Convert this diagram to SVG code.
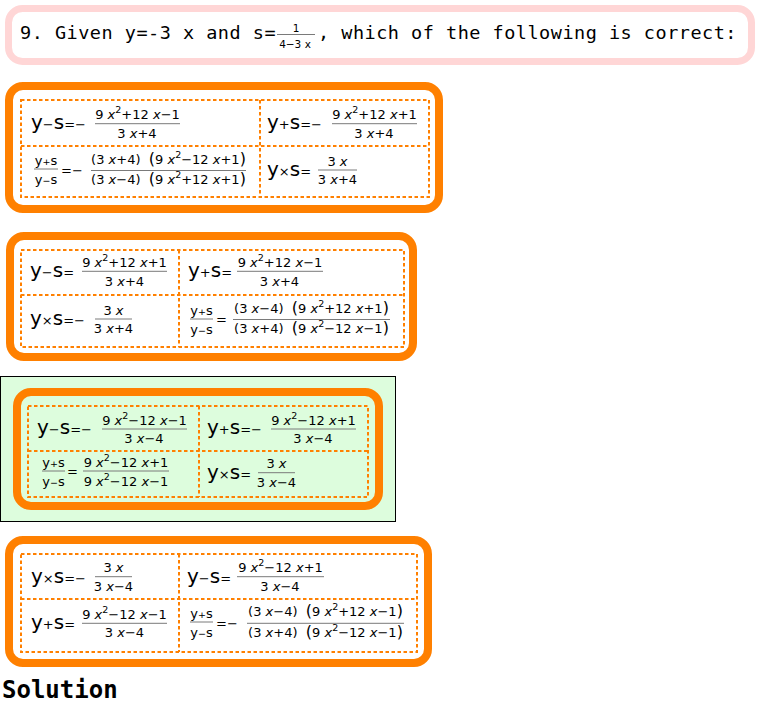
<svg xmlns="http://www.w3.org/2000/svg" width="760" height="707" viewBox="0 0 760 707">
<style>
.mono{font-family:"DejaVu Sans Mono","Liberation Mono",monospace;font-size:18.5px;letter-spacing:0.5px;fill:#000}
.sol{font-family:"DejaVu Sans Mono","Liberation Mono",monospace;font-size:24px;font-weight:bold;fill:#000}
.big{font-family:"DejaVu Sans","Liberation Sans",sans-serif;font-size:20px;fill:#000}
.op{font-size:13px}
.m{font-family:"DejaVu Sans","Liberation Sans",sans-serif;font-size:13px;text-anchor:middle;fill:#000}
.sm{font-family:"DejaVu Sans","Liberation Sans",sans-serif;font-size:13px;text-anchor:middle;fill:#000}
.sop{font-size:9.5px}
.t{font-family:"DejaVu Sans","Liberation Sans",sans-serif;font-size:10.5px;text-anchor:middle;fill:#000}
.i{font-style:italic}
.sup{font-size:9.5px}
.bp{font-size:16px}
.bar{stroke:#7a7a7a;stroke-width:1}
.frame{fill:#fff;stroke:#ff8000;stroke-width:8}
.dash{fill:none;stroke:#ff8000;stroke-width:2;stroke-dasharray:3.5 2.5}
</style>
<rect x="0" y="0" width="760" height="707" fill="#fff"/>

<g id="title">
<rect x="8.5" y="8.5" width="743" height="53" rx="14" fill="#fff" stroke="#ffd6d6" stroke-width="7"/>
<text class="mono" x="20" y="38.5">9. Given y=-3 x and s=</text>
<text class="t" x="296" y="31.5">1</text>
<line class="bar" x1="277" y1="34.5" x2="315" y2="34.5"/>
<text class="t" x="295" y="47.5">4−3 x</text>
<text class="mono" x="318" y="38.5">, which of the following is correct:</text>
</g>

<g id="option1">
<rect class="frame" x="9" y="86" width="430" height="123" rx="14"/>
<rect class="dash" x="21" y="100" width="408" height="97"/>
<line class="dash" x1="260" y1="100" x2="260" y2="197"/>
<line class="dash" x1="21" y1="146" x2="429" y2="146"/>
<text class="big" x="31" y="128.7">y<tspan class="op">−</tspan>s<tspan class="op">=−</tspan></text>
<text class="m" x="137.5" y="119.2">9 <tspan class="i">x</tspan><tspan class="sup" dy="-6">2</tspan><tspan dy="6">+12 </tspan><tspan class="i">x</tspan>−1</text>
<line class="bar" x1="95" y1="123.7" x2="180" y2="123.7"/>
<text class="m" x="137" y="137.5">3 <tspan class="i">x</tspan>+4</text>
<text class="big" x="267" y="128.7">y<tspan class="op">+</tspan>s<tspan class="op">=−</tspan></text>
<text class="m" x="374.5" y="119.2">9 <tspan class="i">x</tspan><tspan class="sup" dy="-6">2</tspan><tspan dy="6">+12 </tspan><tspan class="i">x</tspan>+1</text>
<line class="bar" x1="332" y1="123.7" x2="417" y2="123.7"/>
<text class="m" x="374" y="137.5">3 <tspan class="i">x</tspan>+4</text>
<text class="sm" x="46" y="164.5">y<tspan class="sop">+</tspan>s</text>
<line class="bar" x1="34" y1="169" x2="58" y2="169"/>
<text class="sm" x="46" y="183.5">y<tspan class="sop">−</tspan>s</text>
<text class="big" x="61" y="174.5"><tspan class="op">=−</tspan></text>
<text class="m" x="168.5" y="163.5">(3 <tspan class="i">x</tspan>+4)&#160;&#160;<tspan class="bp">(</tspan>9 <tspan class="i">x</tspan><tspan class="sup" dy="-6">2</tspan><tspan dy="6">−12 </tspan><tspan class="i">x</tspan>+1<tspan class="bp">)</tspan></text>
<line class="bar" x1="91" y1="170.5" x2="246" y2="170.5"/>
<text class="m" x="168.5" y="184">(3 <tspan class="i">x</tspan>−4)&#160;&#160;<tspan class="bp">(</tspan>9 <tspan class="i">x</tspan><tspan class="sup" dy="-6">2</tspan><tspan dy="6">+12 </tspan><tspan class="i">x</tspan>+1<tspan class="bp">)</tspan></text>
<text class="big" x="267" y="176">y<tspan class="op">×</tspan>s<tspan class="op">=</tspan></text>
<text class="m" x="337.5" y="166">3 <tspan class="i">x</tspan></text>
<line class="bar" x1="318" y1="170" x2="357" y2="170"/>
<text class="m" x="337.5" y="184">3 <tspan class="i">x</tspan>+4</text>
</g>

<g id="option2">
<rect class="frame" x="10" y="236" width="403" height="121" rx="14"/>
<rect class="dash" x="21" y="250" width="383" height="97"/>
<line class="dash" x1="179" y1="250" x2="179" y2="347"/>
<line class="dash" x1="21" y1="295" x2="404" y2="295"/>
<text class="big" x="30" y="276.5">y<tspan class="op">−</tspan>s<tspan class="op">=</tspan></text>
<text class="m" x="124.5" y="267">9 <tspan class="i">x</tspan><tspan class="sup" dy="-6">2</tspan><tspan dy="6">+12 </tspan><tspan class="i">x</tspan>+1</text>
<line class="bar" x1="82" y1="271.3" x2="167" y2="271.3"/>
<text class="m" x="124.5" y="285.5">3 <tspan class="i">x</tspan>+4</text>
<text class="big" x="188" y="276.5">y<tspan class="op">+</tspan>s<tspan class="op">=</tspan></text>
<text class="m" x="280" y="267">9 <tspan class="i">x</tspan><tspan class="sup" dy="-6">2</tspan><tspan dy="6">+12 </tspan><tspan class="i">x</tspan>−1</text>
<line class="bar" x1="237" y1="271.3" x2="323" y2="271.3"/>
<text class="m" x="279.5" y="285.5">3 <tspan class="i">x</tspan>+4</text>
<text class="big" x="30" y="324.5">y<tspan class="op">×</tspan>s<tspan class="op">=−</tspan></text>
<text class="m" x="113.5" y="315">3 <tspan class="i">x</tspan></text>
<line class="bar" x1="95" y1="319" x2="132" y2="319"/>
<text class="m" x="113.5" y="333">3 <tspan class="i">x</tspan>+4</text>
<text class="sm" x="201.5" y="314.5">y<tspan class="sop">+</tspan>s</text>
<line class="bar" x1="190" y1="319" x2="213" y2="319"/>
<text class="sm" x="201.5" y="333.5">y<tspan class="sop">−</tspan>s</text>
<text class="big" x="216" y="324"><tspan class="op">=</tspan></text>
<text class="m" x="311.5" y="312.5">(3 <tspan class="i">x</tspan>−4)&#160;&#160;<tspan class="bp">(</tspan>9 <tspan class="i">x</tspan><tspan class="sup" dy="-6">2</tspan><tspan dy="6">+12 </tspan><tspan class="i">x</tspan>+1<tspan class="bp">)</tspan></text>
<line class="bar" x1="233" y1="319.5" x2="390" y2="319.5"/>
<text class="m" x="311.5" y="333">(3 <tspan class="i">x</tspan>+4)&#160;&#160;<tspan class="bp">(</tspan>9 <tspan class="i">x</tspan><tspan class="sup" dy="-6">2</tspan><tspan dy="6">−12 </tspan><tspan class="i">x</tspan>−1<tspan class="bp">)</tspan></text>
</g>

<g id="option3">
<rect x="0.5" y="376.5" width="395" height="145" fill="#ddfddd" stroke="#000" stroke-width="1"/>
<rect class="frame" x="17" y="392" width="362" height="114" rx="14" style="fill:#ddfddd"/>
<rect class="dash" x="28" y="406" width="340" height="91"/>
<line class="dash" x1="199" y1="406" x2="199" y2="497"/>
<line class="dash" x1="28" y1="451" x2="368" y2="451"/>
<text class="big" x="37" y="434">y<tspan class="op">−</tspan>s<tspan class="op">=−</tspan></text>
<text class="m" x="144.5" y="424.8">9 <tspan class="i">x</tspan><tspan class="sup" dy="-6">2</tspan><tspan dy="6">−12 </tspan><tspan class="i">x</tspan>−1</text>
<line class="bar" x1="102" y1="429" x2="187" y2="429"/>
<text class="m" x="144" y="443">3 <tspan class="i">x</tspan>−4</text>
<text class="big" x="207" y="434">y<tspan class="op">+</tspan>s<tspan class="op">=−</tspan></text>
<text class="m" x="313.5" y="424.8">9 <tspan class="i">x</tspan><tspan class="sup" dy="-6">2</tspan><tspan dy="6">−12 </tspan><tspan class="i">x</tspan>+1</text>
<line class="bar" x1="271" y1="429" x2="356" y2="429"/>
<text class="m" x="313" y="443">3 <tspan class="i">x</tspan>−4</text>
<text class="sm" x="53.5" y="466.5">y<tspan class="sop">+</tspan>s</text>
<line class="bar" x1="42" y1="471" x2="65" y2="471"/>
<text class="sm" x="53.5" y="485.5">y<tspan class="sop">−</tspan>s</text>
<text class="big" x="67" y="476"><tspan class="op">=</tspan></text>
<text class="m" x="126" y="466.5">9 <tspan class="i">x</tspan><tspan class="sup" dy="-6">2</tspan><tspan dy="6">−12 </tspan><tspan class="i">x</tspan>+1</text>
<line class="bar" x1="83" y1="471" x2="169" y2="471"/>
<text class="m" x="126" y="485.5">9 <tspan class="i">x</tspan><tspan class="sup" dy="-6">2</tspan><tspan dy="6">−12 </tspan><tspan class="i">x</tspan>−1</text>
<text class="big" x="207" y="478.5">y<tspan class="op">×</tspan>s<tspan class="op">=</tspan></text>
<text class="m" x="276.5" y="468.3">3 <tspan class="i">x</tspan></text>
<line class="bar" x1="258" y1="472.7" x2="295" y2="472.7"/>
<text class="m" x="276.5" y="486.5">3 <tspan class="i">x</tspan>−4</text>
</g>

<g id="option4">
<rect class="frame" x="9" y="540" width="419" height="123" rx="14"/>
<rect class="dash" x="21" y="554" width="396" height="98"/>
<line class="dash" x1="179" y1="554" x2="179" y2="652"/>
<line class="dash" x1="21" y1="599" x2="417" y2="599"/>
<text class="big" x="31" y="582.5">y<tspan class="op">×</tspan>s<tspan class="op">=−</tspan></text>
<text class="m" x="113.5" y="572.3">3 <tspan class="i">x</tspan></text>
<line class="bar" x1="95" y1="576.7" x2="132" y2="576.7"/>
<text class="m" x="113.5" y="590.5">3 <tspan class="i">x</tspan>−4</text>
<text class="big" x="187" y="582.5">y<tspan class="op">−</tspan>s<tspan class="op">=</tspan></text>
<text class="m" x="280.5" y="572.3">9 <tspan class="i">x</tspan><tspan class="sup" dy="-6">2</tspan><tspan dy="6">−12 </tspan><tspan class="i">x</tspan>+1</text>
<line class="bar" x1="237" y1="576.7" x2="324" y2="576.7"/>
<text class="m" x="280" y="590.5">3 <tspan class="i">x</tspan>−4</text>
<text class="big" x="31" y="629">y<tspan class="op">+</tspan>s<tspan class="op">=</tspan></text>
<text class="m" x="124.5" y="619">9 <tspan class="i">x</tspan><tspan class="sup" dy="-6">2</tspan><tspan dy="6">−12 </tspan><tspan class="i">x</tspan>−1</text>
<line class="bar" x1="82" y1="623.3" x2="167" y2="623.3"/>
<text class="m" x="124.5" y="637">3 <tspan class="i">x</tspan>−4</text>
<text class="sm" x="201.5" y="617.5">y<tspan class="sop">+</tspan>s</text>
<line class="bar" x1="190" y1="622" x2="213" y2="622"/>
<text class="sm" x="201.5" y="636.5">y<tspan class="sop">−</tspan>s</text>
<text class="big" x="216" y="627.5"><tspan class="op">=−</tspan></text>
<text class="m" x="325.5" y="616">(3 <tspan class="i">x</tspan>−4)&#160;&#160;<tspan class="bp">(</tspan>9 <tspan class="i">x</tspan><tspan class="sup" dy="-6">2</tspan><tspan dy="6">+12 </tspan><tspan class="i">x</tspan>−1<tspan class="bp">)</tspan></text>
<line class="bar" x1="247" y1="623.3" x2="404" y2="623.3"/>
<text class="m" x="325.5" y="637">(3 <tspan class="i">x</tspan>+4)&#160;&#160;<tspan class="bp">(</tspan>9 <tspan class="i">x</tspan><tspan class="sup" dy="-6">2</tspan><tspan dy="6">−12 </tspan><tspan class="i">x</tspan>−1<tspan class="bp">)</tspan></text>
</g>

<g id="solution">
<text class="sol" x="2" y="698">Solution</text>
</g>

<g id="connectors"/>
</svg>
